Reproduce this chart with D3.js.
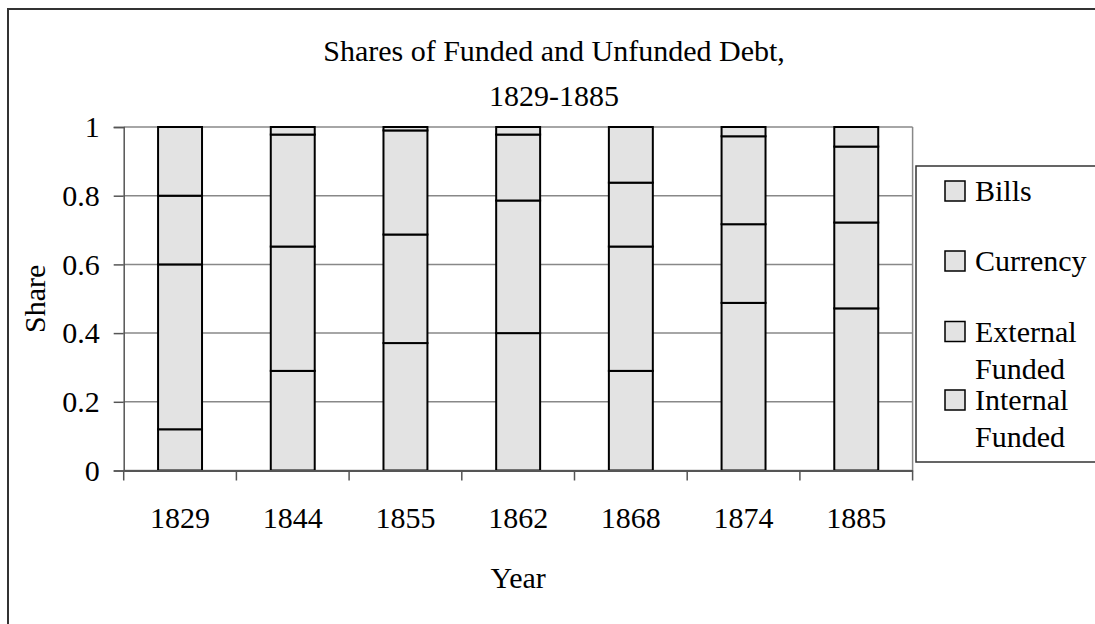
<!DOCTYPE html>
<html>
<head>
<meta charset="utf-8">
<script src="https://cdn.jsdelivr.net/npm/d3@7"></script>
<style>
  html, body { margin: 0; padding: 0; background: #fff; }
  svg text { font-family: "Liberation Serif", "Times New Roman", serif; fill: #000; }
</style>
</head>
<body>
<div id="chartContainer"></div>
<script>
// data
const years = ['1829', '1844', '1855', '1862', '1868', '1874', '1885'];
const internalFunded = [0.12, 0.29, 0.371, 0.40, 0.29, 0.488, 0.472];
const externalFunded = [0.48, 0.362, 0.316, 0.386, 0.362, 0.229, 0.25];
const currency = [0.20, 0.326, 0.303, 0.192, 0.186, 0.256, 0.221];
const bills = [0.20, 0.022, 0.01, 0.022, 0.162, 0.027, 0.057];
const yTicks = [0, 0.2, 0.4, 0.6, 0.8, 1];
const seriesKeys = ['internal', 'external', 'currency', 'bills'];
const legendItems = [['Bills'], ['Currency'], ['External', 'Funded'], ['Internal', 'Funded']];

const width = 1095;
const height = 624;
const plot = { left: 123.7, right: 912.6, top: 127, bottom: 470.5 };
const fontSize = 30;
const barFill = '#e3e3e3';

const rows = years.map((y, i) => ({
    year: y,
    internal: internalFunded[i],
    external: externalFunded[i],
    currency: currency[i],
    bills: bills[i]
}));

const svg = d3.select('#chartContainer')
    .append('svg')
    .attr('width', width)
    .attr('height', height);

// outer chart border (runs off the right and bottom edges)
svg.append('rect')
    .attr('x', 8).attr('y', 9)
    .attr('width', width + 20).attr('height', height + 20)
    .attr('fill', 'none')
    .attr('stroke', '#333')
    .attr('stroke-width', 2);

const x = d3.scaleBand()
    .domain(years)
    .range([plot.left, plot.right]);

const y = d3.scaleLinear()
    .domain([0, 1])
    .range([plot.bottom, plot.top]);

// gridlines
svg.append('g')
    .selectAll('line')
    .data(yTicks)
    .enter().append('line')
    .attr('x1', plot.left).attr('x2', plot.right)
    .attr('y1', d => y(d)).attr('y2', d => y(d))
    .attr('stroke', '#888')
    .attr('stroke-width', 1.5);

// plot area right edge
svg.append('line')
    .attr('x1', plot.right).attr('x2', plot.right)
    .attr('y1', plot.top).attr('y2', plot.bottom)
    .attr('stroke', '#888')
    .attr('stroke-width', 1.5);

// stacked bars
const stacked = d3.stack().keys(seriesKeys)(rows);
const barW = x.bandwidth() * 0.39;

svg.append('g')
    .selectAll('g')
    .data(stacked)
    .enter().append('g')
    .selectAll('rect')
    .data(d => d)
    .enter().append('rect')
    .attr('x', d => x(d.data.year) + (x.bandwidth() - barW) / 2)
    .attr('y', d => y(d[1]))
    .attr('width', barW)
    .attr('height', d => y(d[0]) - y(d[1]))
    .attr('fill', barFill)
    .attr('stroke', '#000')
    .attr('stroke-width', 2);

// Y axis
const yAxis = svg.append('g')
    .attr('transform', `translate(${plot.left},0)`)
    .call(d3.axisLeft(y).tickValues(yTicks).tickFormat(d3.format('')).tickSize(10).tickPadding(14));
yAxis.select('.domain').attr('stroke', '#555').attr('stroke-width', 1.5);
yAxis.selectAll('.tick line').attr('stroke', '#555').attr('stroke-width', 1.5);
yAxis.selectAll('text').style('font-size', fontSize + 'px').attr('font-family', null);

// X axis: ticks sit on category boundaries
const xAxis = svg.append('g')
    .attr('transform', `translate(0,${plot.bottom})`)
    .call(d3.axisBottom(x).tickSize(0).tickPadding(36));
xAxis.select('.domain').attr('stroke', '#555').attr('stroke-width', 2);
xAxis.selectAll('text').style('font-size', fontSize + 'px').attr('font-family', null);

const boundaries = years.map(d => x(d)).concat([x(years[years.length - 1]) + x.bandwidth()]);
xAxis.selectAll('.bound')
    .data(boundaries)
    .enter().append('line')
    .attr('class', 'bound')
    .attr('x1', d => d).attr('x2', d => d)
    .attr('y1', 0).attr('y2', 10)
    .attr('stroke', '#555')
    .attr('stroke-width', 1.5);

// title
const title = svg.append('text')
    .attr('text-anchor', 'middle')
    .style('font-size', fontSize + 'px');
title.append('tspan').attr('x', 554).attr('y', 61).text('Shares of Funded and Unfunded Debt,');
title.append('tspan').attr('x', 554).attr('y', 106).text('1829-1885');

// axis titles
svg.append('text')
    .attr('x', (plot.left + plot.right) / 2)
    .attr('y', 588)
    .attr('text-anchor', 'middle')
    .style('font-size', fontSize + 'px')
    .text('Year');

svg.append('text')
    .attr('transform', `translate(45,${(plot.top + plot.bottom) / 2}) rotate(-90)`)
    .attr('text-anchor', 'middle')
    .style('font-size', fontSize + 'px')
    .text('Share');

// legend
const legend = svg.append('g');
legend.append('rect')
    .attr('x', 916).attr('y', 166)
    .attr('width', 200).attr('height', 296)
    .attr('fill', '#fff')
    .attr('stroke', '#333')
    .attr('stroke-width', 1.5);

const itemBaselines = [201, 271, 341.5, 410];
legendItems.forEach((lines, i) => {
    const by = itemBaselines[i];
    legend.append('rect')
        .attr('x', 945).attr('y', by - 20)
        .attr('width', 20).attr('height', 20)
        .attr('fill', barFill)
        .attr('stroke', '#000')
        .attr('stroke-width', 1.5);
    const t = legend.append('text').style('font-size', fontSize + 'px');
    lines.forEach((ln, j) => {
        t.append('tspan').attr('x', 975).attr('y', by + j * 37).text(ln);
    });
});
</script>
</body>
</html>
